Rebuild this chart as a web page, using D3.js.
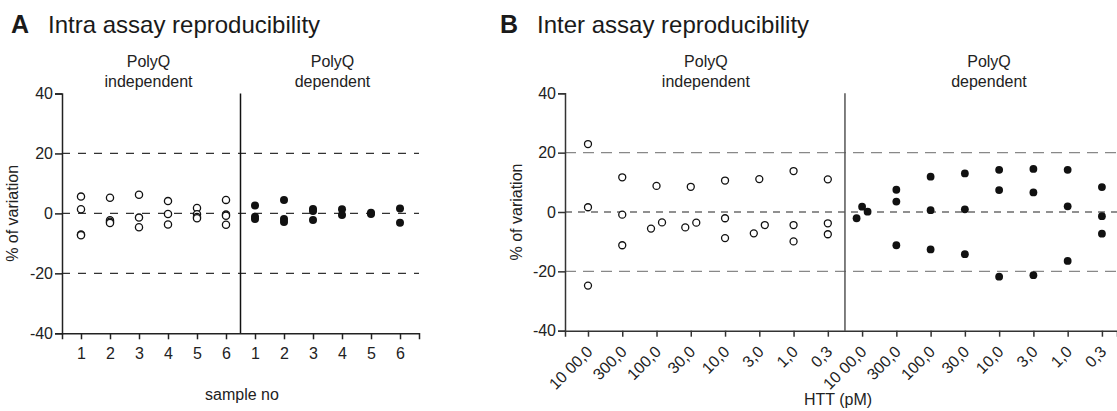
<!doctype html>
<html>
<head>
<meta charset="utf-8"/>
<title>Assay reproducibility</title>
<script src="https://cdn.jsdelivr.net/npm/d3@7"></script>
<style>
body { margin: 0; background: #fff; }
svg { font-family: "Liberation Sans", Arial, sans-serif; }
</style>
</head>
<body>
<script>
// ---- data ----
var samples = ["1", "2", "3", "4", "5", "6"];
var intraIndep = [[5.6, 1.4, -7.0, -7.3], [5.2, -2.3, -2.8, -3.2], [6.2, -1.4, -4.6], [4.1, -0.2, -3.7], [1.8, -0.3, -1.2, -1.6], [4.5, -0.4, -0.8, -3.8]];
var intraDep = [[2.6, -1.1, -1.9], [4.5, -1.9, -2.9], [1.5, 0.8, -2.2], [1.4, -0.5], [0.2, -0.2], [1.6, -3.1]];

var conc = ["10 00,0", "300,0", "100,0", "30,0", "10,0", "3,0", "1,0", "0,3"];
var interIndep = [[22.9, 1.6, -24.8], [11.7, -0.9, -11.2], [8.8, -5.6, -3.5], [8.5, -5.2, -3.6], [10.6, -2.1, -8.8], [11.1, -7.2, -4.4], [13.8, -4.4, -9.9], [11.0, -3.8, -7.5]];
var interDep = [[-2.1, 1.8, 0.1], [7.5, 3.5, -11.2], [11.9, 0.6, -12.6], [13.0, 0.9, -14.2], [14.2, 7.4, -21.8], [14.5, 6.6, -21.3], [14.2, 1.9, -16.5], [8.4, -1.4, -7.3]];

var yTicks = [-40, -20, 0, 20, 40];
var refLines = [-20, 0, 20];
var groups = ["independent", "dependent"];

var svg = d3.select("body").append("svg")
  .attr("width", 1117).attr("height", 411);

// flatten [group][column][values] into points
function points(indep, dep) {
  var pts = [];
  [indep, dep].forEach(function (grp, g) {
    grp.forEach(function (vals, c) {
      vals.forEach(function (v) {
        pts.push({ col: g * indep.length + c, v: v, filled: g == 1, dx: 0 });
      });
    });
  });
  return pts;
}

// push apart points of one column that would overlap (only used in B)
// slot order: outer slots first, then the middle (like the original plot)
var slots = { 2: [-0.5, 0.5], 3: [-1, 1, 0] };
function spread(pts, y, gap, step) {
  var cols = d3.group(pts, function (d) { return d.col; });
  cols.forEach(function (list) {
    list.sort(function (a, b) { return a.v - b.v; });
    var cl = [list[0]];
    var flush = function () {
      var s = slots[cl.length];
      cl.forEach(function (d, k) { d.dx = s ? s[k] * step * (cl.length == 2 ? 2 : 1) : 0; });
    };
    for (var i = 1; i < list.length; i++) {
      if (Math.abs(y(list[i].v) - y(list[i - 1].v)) < gap) cl.push(list[i]);
      else { flush(); cl = [list[i]]; }
    }
    flush();
  });
}

function panel(o) {
  var g = svg.append("g");
  var n = o.labels.length;
  var x = d3.scaleLinear().domain(o.xDomain).range([o.left, o.right]);
  var y = d3.scaleLinear().domain([-40, 40]).range([o.bottom, o.top]);

  // titles
  g.append("text").attr("x", o.titleX).attr("y", 33)
    .attr("font-size", 25).attr("font-weight", "bold").attr("fill", "#1a1a1a").text(o.letter);
  g.append("text").attr("x", o.titleX + 37).attr("y", 33)
    .attr("font-size", 24).attr("fill", "#1a1a1a").text(o.title);

  // group labels
  groups.forEach(function (name, i) {
    var cx = x((n - 1) / 2 + i * n) + o.groupShift[i];
    var t = g.append("text").attr("text-anchor", "middle").attr("font-size", 16).attr("fill", "#222");
    t.append("tspan").attr("x", cx).attr("y", 67).text("PolyQ");
    t.append("tspan").attr("x", cx).attr("y", 87).text(name);
  });

  // reference lines
  refLines.forEach(function (r) {
    var st = o.lineStyle(r);
    g.append("line")
      .attr("x1", o.left).attr("x2", o.right)
      .attr("y1", y(r)).attr("y2", y(r))
      .attr("stroke", st.color).attr("stroke-width", st.w)
      .attr("stroke-dasharray", st.dash);
  });

  // divider between groups
  g.append("line")
    .attr("x1", x(n - 0.5)).attr("x2", x(n - 0.5))
    .attr("y1", y(40)).attr("y2", y(-40))
    .attr("stroke", o.dividerColor).attr("stroke-width", 1.5);

  // axes
  var ya = g.append("g").attr("transform", "translate(" + o.left + ",0)")
    .call(d3.axisLeft(y).tickValues(yTicks).tickFormat(function (d) { return String(d); })
      .tickSizeOuter(0).tickSize(7).tickPadding(2));
  var xa = g.append("g").attr("transform", "translate(0," + o.bottom + ")")
    .call(d3.axisBottom(x).tickValues(d3.range(2 * n))
      .tickFormat(function (d) { return o.labels[d % n]; })
      .tickSizeOuter(0).tickSize(6).tickPadding(8));
  [ya, xa].forEach(function (a) {
    a.select(".domain").attr("stroke", o.axisColor).attr("stroke-width", 1.5);
    a.selectAll(".tick line").attr("stroke", o.axisColor).attr("stroke-width", 1.5);
    a.selectAll("text").attr("font-size", 16).attr("fill", "#222")
      .attr("font-family", "Liberation Sans, Arial, sans-serif");
  });
  if (o.rotate) {
    xa.selectAll(".tick text")
      .attr("text-anchor", "end")
      .attr("transform", "translate(1,18) rotate(-45)")
      .attr("x", 0).attr("y", 0).attr("dy", "0.35em");
  }

  // axis titles
  g.append("text").attr("text-anchor", "middle").attr("font-size", 16).attr("fill", "#222")
    .attr("transform", "translate(" + o.yTitleX + "," + y(0) + ") rotate(-90)")
    .text("% of variation");
  g.append("text").attr("text-anchor", "middle").attr("font-size", 16).attr("fill", "#222")
    .attr("x", o.xTitleX).attr("y", o.xTitleY).text(o.xTitle);

  // points
  var pts = points(o.indep, o.dep);
  if (o.spread) spread(pts, y, 9.5, 5.5);
  g.selectAll("circle.pt").data(pts).enter().append("circle")
    .attr("class", "pt")
    .attr("cx", function (d) { return x(d.col) + d.dx; })
    .attr("cy", function (d) { return y(d.v); })
    .attr("r", function (d) { return d.filled ? o.r + 0.4 : o.r; })
    .attr("fill", function (d) { return d.filled ? "#111" : "#fff"; })
    .attr("stroke", "#111")
    .attr("stroke-width", function (d) { return d.filled ? 0 : 1.3; });
}

panel({
  letter: "A", title: "Intra assay reproducibility", titleX: 11,
  labels: samples, indep: intraIndep, dep: intraDep,
  left: 62, right: 419, top: 93.5, bottom: 333.3,
  xDomain: [-0.655, 11.655], groupShift: [-5, 5],
  lineStyle: function (r) { return { color: "#333", dash: "8,8", w: 1.2 }; },
  dividerColor: "#111", axisColor: "#222",
  yTitleX: 18, xTitle: "sample no", xTitleX: 242, xTitleY: 400,
  r: 3.6, spread: false, rotate: false
});

panel({
  letter: "B", title: "Inter assay reproducibility", titleX: 500,
  labels: conc, indep: interIndep, dep: interDep,
  left: 565, right: 1117, top: 93.3, bottom: 330.7,
  xDomain: [-0.671, 15.44], groupShift: [-2, 7],
  lineStyle: function (r) { return r == 0 ? { color: "#222", dash: "7,6", w: 1.1 } : { color: "#888", dash: "11,7", w: 1.4 }; },
  dividerColor: "#555", axisColor: "#333",
  yTitleX: 522, xTitle: "HTT (pM)", xTitleX: 838, xTitleY: 405,
  r: 3.5, spread: true, rotate: true
});
</script>
</body>
</html>
